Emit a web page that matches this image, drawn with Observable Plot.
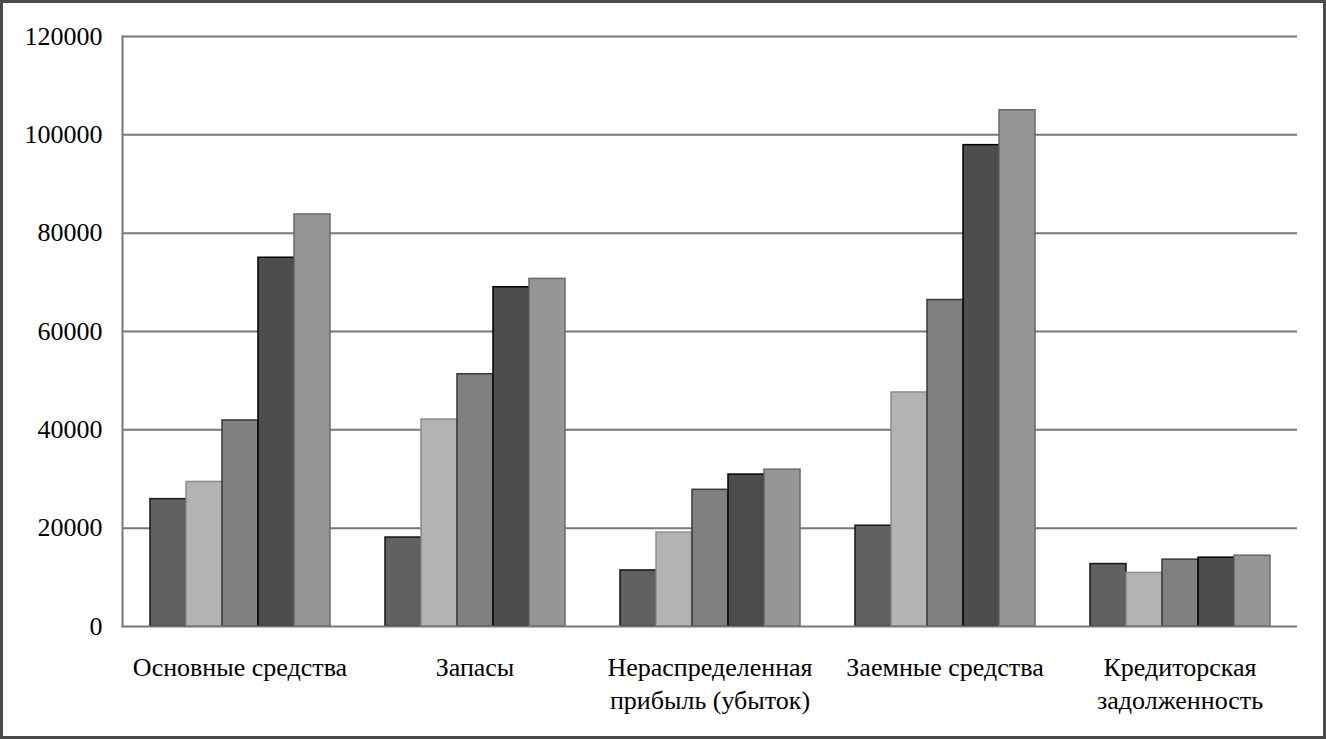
<!DOCTYPE html>
<html>
<head>
<meta charset="utf-8">
<script src="https://cdn.jsdelivr.net/npm/d3@7"></script>
<script src="https://cdn.jsdelivr.net/npm/@observablehq/plot@0.6"></script>
<style>
  html, body { margin: 0; padding: 0; background: #fff; }
  #frame {
    width: 1326px; height: 739px; box-sizing: border-box;
    border: 3px solid #4a4a4a; background: #fff; overflow: hidden;
  }
  #frame svg { display: block; }
</style>
</head>
<body>
<div id="frame"></div>
<script>
const categories = ["Основные средства", "Запасы", "Нераспределенная прибыль (убыток)", "Заемные средства", "Кредиторская задолженность"];
const categoryLabels = ["Основные средства", "Запасы", "Нераспределенная\nприбыль (убыток)", "Заемные средства", "Кредиторская\nзадолженность"];
const series = ["Ряд 1", "Ряд 2", "Ряд 3", "Ряд 4", "Ряд 5"];
const series1 = [25900, 18100, 11400, 20500, 12700];
const series2 = [29400, 42100, 19100, 47600, 10900];
const series3 = [41900, 51300, 27800, 66400, 13600];
const series4 = [75000, 69000, 30900, 97900, 14000];
const series5 = [83800, 70700, 31900, 105000, 14400];
const yTicks = [0, 20000, 40000, 60000, 80000, 100000, 120000];
const fills = ["#616161", "#b3b3b3", "#808080", "#4d4d4d", "#969696"];
const strokes = ["#151515", "#8c8c8c", "#383838", "#000000", "#6a6a6a"];

const values = [series1, series2, series3, series4, series5];
const rows = categories.flatMap((c, i) => series.map((s, j) => ({
  category: c, series: s, value: values[j][i], fill: fills[j], stroke: strokes[j]
})));

const font = "'Liberation Serif', 'Times New Roman', serif";

const chart = Plot.plot({
  width: 1320,
  height: 733,
  marginLeft: 119,
  marginRight: 26,
  marginTop: 33,
  marginBottom: 110,
  style: { background: "#fff", color: "#000", fontFamily: font },
  fx: { domain: categories, padding: 0 },
  x: { domain: series, paddingInner: 0, paddingOuter: 0.75, axis: null },
  y: { domain: [0, 120000] },
  marks: [
    Plot.gridY(yTicks.filter(d => d > 0), { stroke: "#777", strokeOpacity: 1, strokeWidth: 2 }),
    Plot.barY(rows, {
      fx: "category", x: "series", y: "value",
      fill: d => d.fill, stroke: d => d.stroke, strokeWidth: 1.5
    }),
    Plot.ruleY([0], { stroke: "#777", strokeWidth: 2 }),
    Plot.frame({ anchor: "left", facetAnchor: "left", stroke: "#777", strokeWidth: 2 }),
    Plot.axisY(yTicks, {
      tickSize: 0, tickPadding: 20, tickFormat: d => String(d),
      fontSize: 26, fontFamily: font, fill: "#000", label: null
    }),
    Plot.axisFx({
      anchor: "bottom", tickSize: 0, tickPadding: 26,
      tickFormat: d => categoryLabels[categories.indexOf(d)],
      fontSize: 26, fontFamily: font, fill: "#000", lineHeight: 1.27, label: null
    })
  ]
});
document.getElementById("frame").appendChild(chart);
</script>
</body>
</html>
